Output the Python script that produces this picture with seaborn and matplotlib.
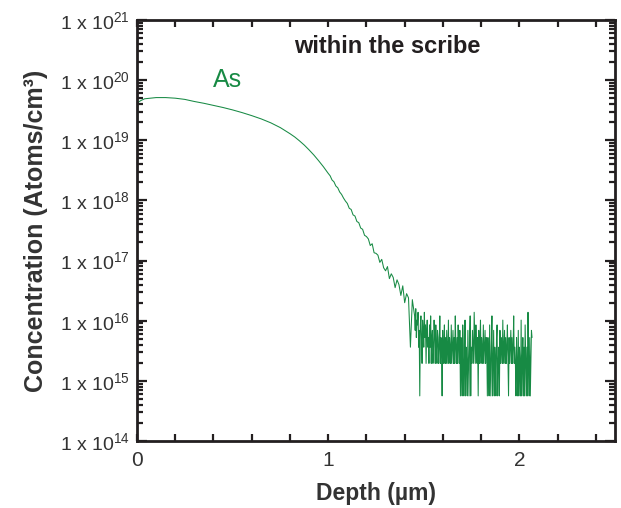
import numpy as np
import pandas as pd
import matplotlib
matplotlib.use("Agg")
import matplotlib.pyplot as plt
import seaborn as sns
from matplotlib.ticker import FixedLocator, MultipleLocator, LogLocator, NullFormatter

# ---------------- data (log10 of concentration, atoms/cm^3) ----------------
depth_a = [0.0, 0.004, 0.01, 0.02, 0.04, 0.07, 0.1, 0.15, 0.2, 0.25, 0.3, 0.35,
           0.4, 0.45, 0.5, 0.525, 0.55, 0.575, 0.6, 0.625, 0.65, 0.675, 0.7,
           0.725, 0.75, 0.775, 0.8, 0.825, 0.85, 0.875, 0.9, 0.925, 0.95, 0.975]
log_a = [17.7, 19.62, 19.64, 19.66, 19.69, 19.70, 19.71, 19.71, 19.70, 19.68,
         19.645, 19.615, 19.58, 19.545, 19.505, 19.483, 19.46, 19.435, 19.41,
         19.383, 19.355, 19.323, 19.29, 19.25, 19.21, 19.16, 19.11, 19.055,
         18.99, 18.92, 18.84, 18.755, 18.66, 18.56]

depth_b_start, depth_b_end = 1.00, 1.45
log_b = [18.45, 18.41, 18.34, 18.31, 18.24, 18.21, 18.14, 18.10, 18.04, 17.99,
         17.95, 17.87, 17.85, 17.76, 17.74, 17.65, 17.63, 17.54, 17.52, 17.42,
         17.40, 17.36, 17.25, 17.28, 17.13, 17.12, 17.09, 16.97, 17.02, 16.88,
         16.83, 16.90, 16.70, 16.78, 16.72, 16.55, 16.68, 16.60, 16.42, 16.58,
         16.30, 16.45, 16.38, 15.56, 16.35, 16.12]

depth_c_start, depth_c_end = 1.452, 2.066
log_c = [
    # 1.45 - 1.60
    16.08, 15.84, 16.20, 15.72, 16.01, 15.93, 16.14, 15.56, 15.84, 14.75,
    15.93, 16.08, 15.72, 15.29, 16.01, 15.84, 15.56, 16.14, 15.72, 15.93,
    15.29, 15.84, 16.01, 15.56, 15.72, 15.29, 15.93, 15.56, 16.08, 15.29,
    15.72, 15.84, 15.29, 15.56, 16.01, 15.72, 15.29, 15.93, 15.56, 15.29,
    15.84, 15.72, 15.29, 15.56, 16.08, 15.29, 15.72, 15.56, 14.75, 15.84,
    # 1.60 - 1.69
    15.29, 15.56, 15.93, 15.29, 15.72, 15.29, 15.84, 15.56, 15.29, 16.01,
    15.29, 15.72, 15.56, 15.29, 15.93, 15.29, 15.56, 15.84, 15.29, 15.72,
    15.29, 16.08, 15.56, 15.29, 15.72, 15.29, 15.93, 15.56, 15.29, 15.84,
    # 1.69 - 1.75
    14.75, 15.72, 15.29, 14.75, 15.93, 15.56, 14.75, 15.29, 16.01, 14.75,
    15.56, 15.29, 14.75, 15.84, 15.29, 14.75, 15.72, 16.08, 14.75, 15.56,
    # 1.75 - 1.83
    15.29, 15.84, 15.56, 15.29, 16.14, 15.72, 15.29, 15.93, 15.56, 15.29,
    15.72, 14.75, 15.84, 15.29, 15.56, 16.01, 15.29, 15.72, 15.56, 15.29,
    15.93, 15.29, 15.56, 15.84, 15.29, 15.72, 15.56,
    # 1.83 - 1.90
    14.75, 15.72, 15.29, 14.75, 15.93, 15.29, 14.75, 15.56, 16.08, 14.75,
    15.29, 15.84, 14.75, 15.56, 15.29, 14.75, 15.72, 15.93, 14.75, 15.29,
    15.56, 14.75, 15.84,
    # 1.90 - 1.98
    15.29, 15.72, 15.56, 15.29, 16.01, 15.29, 15.56, 15.84, 15.29, 15.72,
    15.29, 15.56, 15.93, 15.29, 14.75, 15.72, 15.29, 15.56, 15.84, 15.29,
    15.72, 15.29, 15.56, 16.08, 15.29, 15.56, 15.29,
    # 1.98 - 2.07
    14.75, 15.72, 15.29, 14.75, 15.84, 14.75, 15.56, 15.29, 14.75, 16.01,
    14.75, 15.29, 15.72, 14.75, 15.56, 14.75, 15.93, 15.29, 14.75, 15.56,
    14.75, 16.14, 15.29, 14.75, 15.72, 14.75, 15.29, 15.84, 15.72,
]

species_label = "As"
title_text = "within the scribe"
x_ticks = [0, 1, 2]
y_decades = [14, 15, 16, 17, 18, 19, 20, 21]

# ---------------- build table ----------------
depth = np.concatenate([
    np.array(depth_a),
    np.linspace(depth_b_start, depth_b_end, len(log_b)),
    np.linspace(depth_c_start, depth_c_end, len(log_c)),
])
conc = 10.0 ** np.concatenate([log_a, log_b, log_c])
df = pd.DataFrame({"depth": depth, "conc": conc})

# ---------------- style ----------------
sns.set_theme(style="ticks")
plt.rcParams["font.family"] = ["Liberation Sans", "DejaVu Sans"]
plt.rcParams["mathtext.fontset"] = "custom"
plt.rcParams["mathtext.rm"] = "Liberation Sans"
plt.rcParams["mathtext.it"] = "Liberation Sans:italic"
plt.rcParams["mathtext.bf"] = "Liberation Sans:bold"

green = "#178a44"
ink = "#231f20"
grey = "#333333"

fig = plt.figure(figsize=(6.21, 5.08), dpi=100)
ax = fig.add_axes([137 / 621, 67 / 508, 478 / 621, 421 / 508])

sns.lineplot(data=df, x="depth", y="conc", ax=ax, color=green, linewidth=0.75,
             estimator=None, sort=False)

ax.set_yscale("log")
ax.set_xlim(0, 2.5)
ax.set_ylim(1e14, 1e21)

# ticks
ax.xaxis.set_major_locator(FixedLocator(x_ticks))
ax.set_xticklabels([str(v) for v in x_ticks])
ax.xaxis.set_minor_locator(MultipleLocator(0.2))
ax.yaxis.set_major_locator(FixedLocator([10.0 ** d for d in y_decades]))
ax.set_yticklabels([r"1 x 10$^{%d}$" % d for d in y_decades])
ax.yaxis.set_minor_locator(LogLocator(base=10, subs=np.arange(2, 10), numticks=20))
ax.yaxis.set_minor_formatter(NullFormatter())

ax.tick_params(axis="both", which="both", direction="in", top=True, right=True,
               colors=ink, width=1.6)
ax.tick_params(axis="x", which="major", length=5, labelsize=15, pad=7)
ax.tick_params(axis="x", which="minor", length=5)
ax.tick_params(axis="y", which="major", length=7, labelsize=14, pad=5)
ax.tick_params(axis="y", which="minor", length=4)
for lab in ax.get_xticklabels() + ax.get_yticklabels():
    lab.set_color(grey)

for sp in ax.spines.values():
    sp.set_visible(True)
    sp.set_linewidth(2.0)
    sp.set_color(ink)

ax.set_xlabel("Depth (µm)", fontsize=16.5, fontweight="bold", color=grey, labelpad=9)
ax.set_ylabel("Concentration (Atoms/cm³)", fontsize=18, fontweight="bold",
              color=grey, labelpad=9)

ax.text(0.397, 10 ** 19.885, species_label, color=green, fontsize=18,
        ha="left", va="baseline")
ax.text(1.308, 10 ** 20.443, title_text, color=ink, fontsize=17, fontweight="bold",
        ha="center", va="baseline")

fig.savefig("out.png", dpi=100)
